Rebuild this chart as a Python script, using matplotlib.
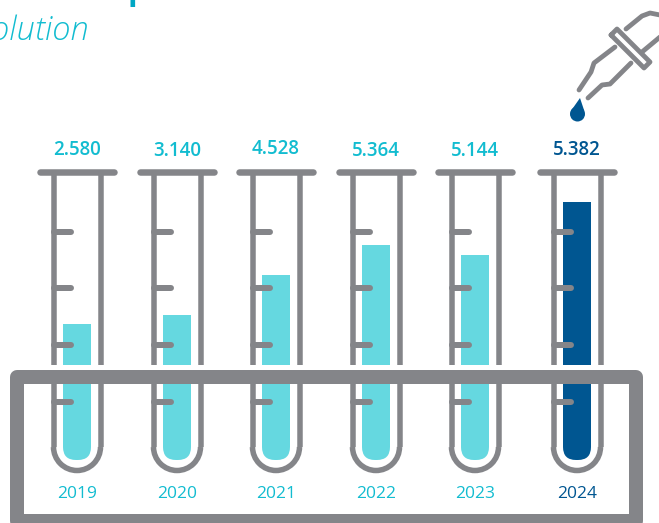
import matplotlib
matplotlib.use("Agg")
import matplotlib.pyplot as plt
from matplotlib.patches import Arc, FancyBboxPatch, Rectangle, Circle, Polygon

# ---------------------------
# Data
# ---------------------------
years = ["2019", "2020", "2021", "2022", "2023", "2024"]
value_labels = ["2.580", "3.140", "4.528", "5.364", "5.144", "5.382"]
# liquid height in each tube (pixels above the tube floor, not proportional to the labels)
liquid_heights = [137, 146, 186, 216, 206, 259]

teal = "#65d8e0"
teal_text = "#12bcd0"
blue = "#005691"
grey = "#848589"

tube_x = [77, 177, 276, 376, 475, 577]
tube_floor = 461
tick_y = [232, 288, 345, 402]
label_dy = [150, 151, 149, 151, 151, 150]

plt.rcParams["font.family"] = ["Open Sans", "DejaVu Sans"]

fig = plt.figure(figsize=(6.59, 5.23), dpi=100)
ax = fig.add_axes([0, 0, 1, 1])
ax.set_xlim(0, 659)
ax.set_ylim(523, 0)
ax.axis("off")

PX = 0.72  # points per pixel at dpi 100

# ---------------------------
# Tubes and liquid
# ---------------------------
for i, x in enumerate(tube_x):
    col = blue if i == 5 else teal
    txt_col = blue if i == 5 else teal_text

    bars = ax.bar(x, -liquid_heights[i], bottom=tube_floor, width=28, color=col, zorder=1)
    clip = FancyBboxPatch((x - 1, 114), 2, tube_floor - 128,
                          boxstyle="round,pad=13,rounding_size=13",
                          transform=ax.transData, fc="none", ec="none")
    ax.add_patch(clip)
    bars[0].set_clip_path(clip)

    # walls, bottom arc, cap, graduations
    for side in (-23.5, 23.5):
        ax.plot([x + side, x + side], [172, 447], color=grey, lw=5.5 * PX,
                solid_capstyle="butt", zorder=2)
    ax.add_patch(Arc((x, 447), 47, 47, theta1=0, theta2=180, color=grey,
                     lw=5.5 * PX, zorder=2))
    ax.plot([x - 37, x + 37], [172, 172], color=grey, lw=6.5 * PX,
            solid_capstyle="round", zorder=2)
    for ty in tick_y:
        ax.plot([x - 23, x - 6], [ty, ty], color=grey, lw=6 * PX,
                solid_capstyle="round", zorder=2)

    ax.text(x, label_dy[i], value_labels[i], color=txt_col, fontsize=13.5, fontweight="semibold",
            ha="center", va="center", zorder=5)
    ax.text(x, 494.5, years[i], color=txt_col, fontsize=12.5,
            ha="center", va="center", zorder=5)

# ---------------------------
# Rack: white gap above it, then the frame
# ---------------------------
ax.add_patch(Rectangle((0, 365), 659, 6, fc="white", ec="none", zorder=3))
ax.add_patch(Rectangle((17, 376.5), 619, 144.5, fc="none", ec=grey, lw=14 * PX,
                       joinstyle="round", zorder=4))

# ---------------------------
# Dropper in the top right corner
# ---------------------------
dropper_lines = [
    [(611, 35), (617, 29), (650, 62), (644, 68), (611, 35)],
    [(626, 29), (642, 16), (650, 13), (660, 15)],
    [(642, 52), (660, 37)],
    [(615, 47), (594, 63), (591, 72), (579, 90)],
    [(631, 63), (610, 84), (602, 85), (588, 98)],
]
for pts in dropper_lines:
    ax.plot([p[0] for p in pts], [p[1] for p in pts], color=grey, lw=4.8 * PX,
            solid_capstyle="round", solid_joinstyle="round", zorder=2)

ax.add_patch(Circle((577.5, 114), 7.5, fc=blue, ec="none", zorder=2))
ax.add_patch(Polygon([(580, 98), (570.5, 111.5), (584.5, 111.5)], fc=blue, ec="none", zorder=2))

# ---------------------------
# Cropped heading at the top
# ---------------------------
ax.text(89, 40, "Evolution", color=teal_text, fontsize=23.5, style="italic", fontweight="light",
        ha="right", va="baseline", clip_on=True)
ax.text(138, -1, "p", color="#00a7c4", fontsize=23, fontweight="bold",
        ha="center", va="baseline", clip_on=True)

fig.savefig("out.png", dpi=100)
